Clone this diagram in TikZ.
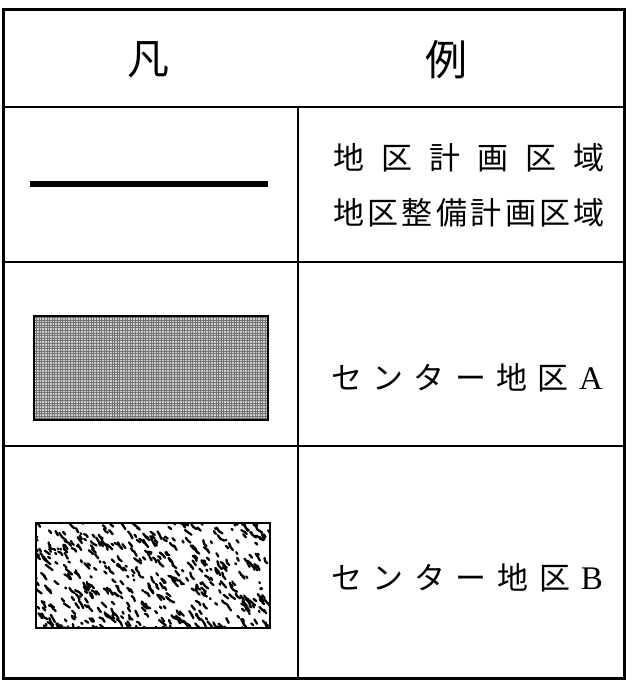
\documentclass[tikz,border=0pt]{standalone}
\usepackage{fontspec}
\newfontfamily\jp{Noto Sans CJK JP}
\newfontfamily\lat{Liberation Serif}
\begin{document}
\begin{tikzpicture}[x=1pt,y=-1pt,
  frame/.style={line width=3pt},
  rule/.style={line width=1.8pt},
  jtext/.style={font=\jp\fontsize{31}{34}\selectfont, inner sep=0pt},
  htext/.style={font=\jp\fontsize{42}{46}\selectfont, inner sep=0pt}]
\useasboundingbox (0,0) rectangle (636,686);
\fill[white] (0,0) rectangle (636,686);
% frame and rules
\draw[frame] (3,9) rectangle (624,678);
\draw[rule] (3,107) -- (624,107);
\draw[rule] (3,262) -- (624,262);
\draw[rule] (3,446) -- (624,446);
\draw[line width=1.4pt] (298,107) -- (298,678);
% header
\node[htext] (h1) at (148,60) {凡};
\node[htext] (h2) at (446,60) {例};
% row 1
\draw[line width=6pt] (30,184) -- (268,184);
\node[jtext] (t1) at (469,158) {\makebox[272pt][s]{地\hfill 区\hfill 計\hfill 画\hfill 区\hfill 域}};
\node[jtext] (t2) at (469,213) {\makebox[272pt][s]{地\hfill 区\hfill 整\hfill 備\hfill 計\hfill 画\hfill 区\hfill 域}};
% row 2
\begin{scope}
\clip (34,316) rectangle (268,420);
\fill[black!18] (34,316) rectangle (268,420);
\draw[black!55, line width=0.45pt, step=2.6pt] (30,312) grid (272,424);
\end{scope}
\draw[line width=1.6pt] (34,316) rectangle (268,420);
\node[jtext] (t3) at (467,378) {\makebox[272pt][s]{セ\hfill ン\hfill タ\hfill ー\hfill 地\hfill 区\hfill {\lat\fontsize{33}{34}\selectfont A}}};
% row 3
\begin{scope}
\clip (36,523) rectangle (270,628);
\pgfmathsetseed{11}
\foreach \i in {1,...,520}{
  \pgfmathsetmacro{\px}{30+246*rnd}
  \pgfmathsetmacro{\py}{517+117*rnd}
  \pgfmathsetmacro{\ang}{35+30*rnd}
  \pgfmathsetmacro{\len}{1+8*rnd}
  \pgfmathsetmacro{\bend}{-35+70*rnd}
  \draw[line width=2.3pt, line cap=round] (\px,\py) to[bend left=\bend] ++(\ang:\len);
}
\end{scope}
\draw[line width=1.6pt] (36,523) rectangle (270,628);
\node[jtext] (t4) at (467,578) {\makebox[272pt][s]{セ\hfill ン\hfill タ\hfill ー\hfill 地\hfill 区\hfill {\lat\fontsize{33}{34}\selectfont B}}};
\end{tikzpicture}
\end{document}
